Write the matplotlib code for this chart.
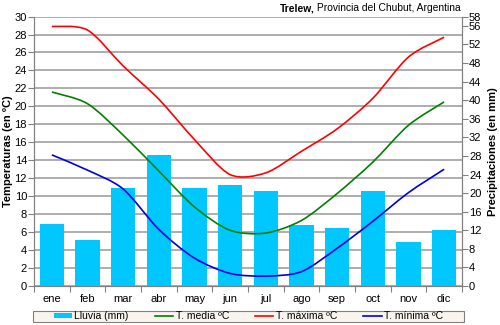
import numpy as np
import matplotlib
matplotlib.use("Agg")
import matplotlib.pyplot as plt
import matplotlib.ticker as mticker
from matplotlib.path import Path
from matplotlib.patches import PathPatch, Patch, Rectangle
from matplotlib.lines import Line2D

plt.rcParams['font.family'] = ['Liberation Sans', 'DejaVu Sans']

# --- datos climáticos de Trelew ---
meses = ['ene', 'feb', 'mar', 'abr', 'may', 'jun', 'jul', 'ago', 'sep', 'oct', 'nov', 'dic']
lluvia = [13.3, 9.8, 21.1, 28.2, 21.1, 21.8, 20.5, 13.1, 12.4, 20.5, 9.5, 12.0]
t_max = [28.9, 28.5, 24.5, 20.8, 16.3, 12.4, 12.6, 15.0, 17.5, 20.9, 25.5, 27.7]
t_media = [21.6, 20.3, 16.8, 12.8, 8.8, 6.2, 5.9, 7.3, 10.3, 13.8, 17.9, 20.5]
t_min = [14.6, 12.9, 10.8, 6.3, 3.1, 1.4, 1.1, 1.6, 4.2, 7.2, 10.4, 13.0]

C_LLUVIA = '#00c8ff'
C_MEDIA = '#008000'
C_MAX = '#ff0000'
C_MIN = '#0000e0'
C_GRID = '#a0a0a0'
C_AXIS = '#808080'


def curva_suave(x, y, k=7.0):
    # tramos Bezier cúbicos tipo Catmull-Rom (línea suavizada)
    pts = np.column_stack([x, y]).astype(float)
    n = len(pts)
    verts = [pts[0]]
    codes = [Path.MOVETO]
    for i in range(n - 1):
        p0 = pts[i - 1] if i > 0 else pts[i]
        p1 = pts[i]
        p2 = pts[i + 1]
        p3 = pts[i + 2] if i + 2 < n else pts[i + 1]
        verts += [p1 + (p2 - p0) / k, p2 - (p3 - p1) / k, p2]
        codes += [Path.CURVE4] * 3
    return Path(verts, codes)


fig = plt.figure(figsize=(5, 3.25), dpi=100)
ax = fig.add_axes([0.068, 0.12, 0.856, 0.829])
ax2 = ax.twinx()

x = np.arange(len(meses))

# eje de temperaturas (izquierda) con cuadrícula
ax.set_xlim(-0.5, 11.5)
ax.set_ylim(0, 30)
ax.yaxis.set_major_locator(mticker.MultipleLocator(2))
ax.grid(axis='y', color=C_GRID, linewidth=1.2)
ax.set_axisbelow(True)
ax.set_ylabel('Temperaturas (en ºC)', fontsize=8, fontweight='bold', labelpad=1)

# eje de precipitaciones (derecha)
ax2.set_ylim(0, 58)
ax2.set_yticks(list(range(0, 57, 4)) + [58])
ax2.set_ylabel('Precipitaciones (en mm)', fontsize=8, fontweight='bold', labelpad=5)
ax2.bar(x, lluvia, width=0.69, color=C_LLUVIA, zorder=2)

for c, serie in [(C_MEDIA, t_media), (C_MAX, t_max), (C_MIN, t_min)]:
    ax2.add_patch(PathPatch(curva_suave(x, serie), transform=ax.transData,
                            fill=False, edgecolor=c, linewidth=1.2, zorder=3))

# meses en el centro, marcas entre categorías
ax.xaxis.set_major_locator(mticker.FixedLocator(np.arange(-0.5, 12, 1)))
ax.xaxis.set_major_formatter(mticker.NullFormatter())
ax.xaxis.set_minor_locator(mticker.FixedLocator(x))
ax.xaxis.set_minor_formatter(mticker.FixedFormatter(meses))
ax.tick_params(axis='x', which='minor', length=0, labelsize=8, pad=6)
ax.tick_params(axis='x', which='major', length=4, color=C_AXIS)
ax.tick_params(axis='y', length=4, color=C_AXIS, labelsize=8, pad=1)
ax2.tick_params(axis='y', length=4, color=C_AXIS, labelsize=8, pad=1)

for a in (ax, ax2):
    a.spines['top'].set_visible(False)
    for s in ('left', 'right', 'bottom'):
        a.spines[s].set_color(C_AXIS)

# título
t2 = fig.text(0.922, 0.975, ' Provincia del Chubut, Argentina', fontsize=7.4,
              ha='right', va='center')
fig.canvas.draw()
ax.annotate('Trelew,', xy=(0, 0.5), xycoords=t2, ha='right', va='center',
            fontsize=7.4, fontweight='bold', annotation_clip=False)

# leyenda inferior: marco fijo y entradas centradas
fig.patches.append(Rectangle((0.066, 0.009), 0.862, 0.035, transform=fig.transFigure,
                             facecolor='#f9f5ee', edgecolor=C_AXIS, linewidth=0.8,
                             zorder=0))
handles = [Patch(facecolor=C_LLUVIA, edgecolor='none'),
           Line2D([], [], color=C_MEDIA, lw=1.2),
           Line2D([], [], color=C_MAX, lw=1.2),
           Line2D([], [], color=C_MIN, lw=1.2)]
labels = ['Lluvia (mm)', 'T. media ºC', 'T. máxima ºC', 'T. mínima ºC']
leg = fig.legend(handles, labels, loc='center', ncol=4,
                 bbox_to_anchor=(0.497, 0.027), borderaxespad=0,
                 fontsize=7.5, frameon=False, handlelength=1.75,
                 handleheight=0.45, handletextpad=0.25, borderpad=0,
                 columnspacing=2.5)

fig.savefig('out.png', dpi=100)
